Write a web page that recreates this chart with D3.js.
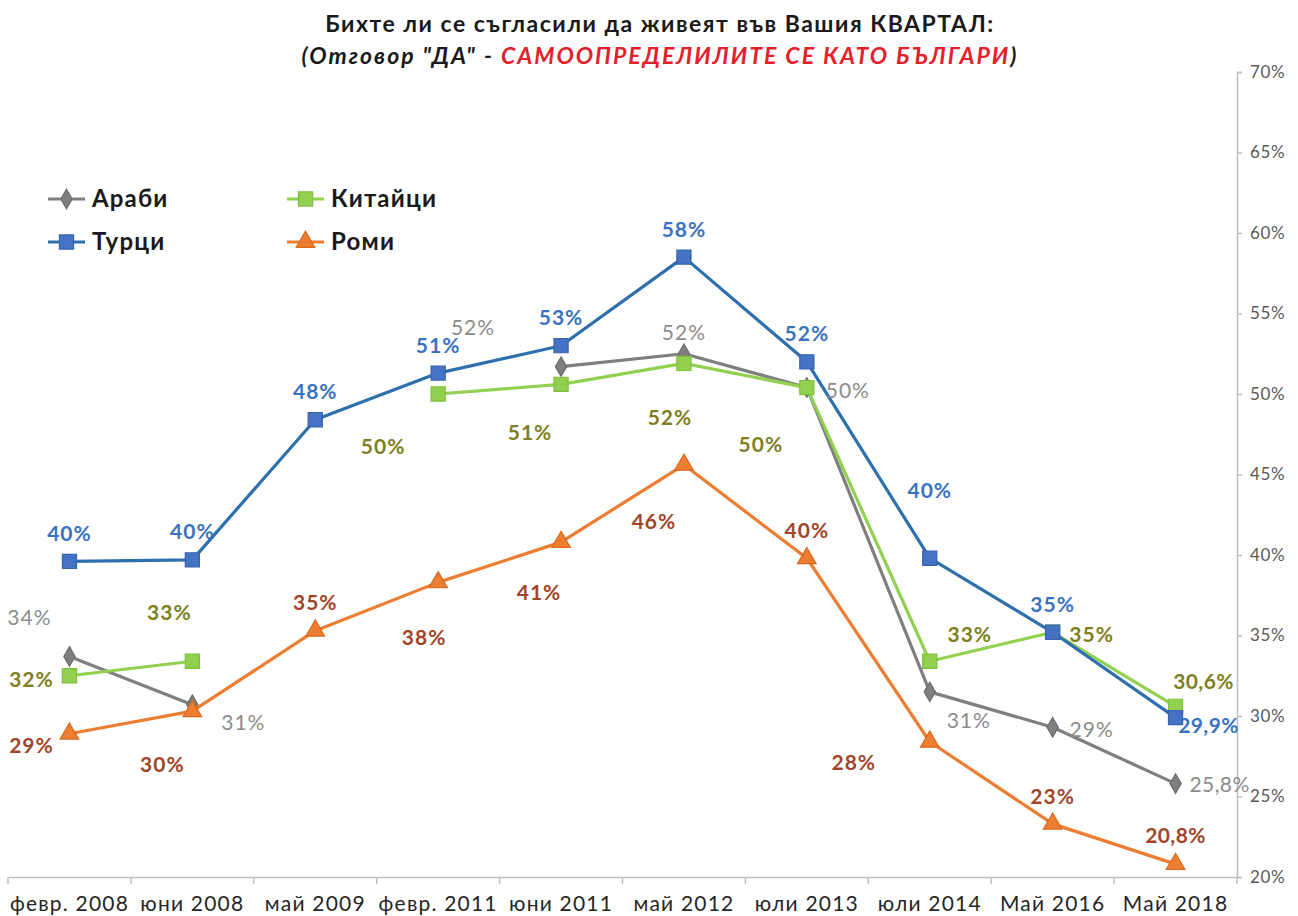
<!DOCTYPE html>
<html>
<head>
<meta charset="utf-8">
<script src="https://cdn.jsdelivr.net/npm/d3@7"></script>
<style>
  body { margin: 0; background: #fff; }
  svg { font-family: Lato, "Open Sans", sans-serif; }
</style>
</head>
<body>
<div id="chart"></div>
<script>
const categories = ["февр. 2008", "юни 2008", "май 2009", "февр. 2011", "юни 2011", "май 2012", "юли 2013", "юли 2014", "Май 2016", "Май 2018"];
const seriesNames = ["Араби", "Китайци", "Турци", "Роми"];

// values in %, null = no survey for that group
const arabi   = [33.7, 30.7, null, null, 51.7, 52.5, 50.4, 31.5, 29.3, 25.8];
const kitaici = [32.5, 33.4, null, 50.0, 50.6, 51.9, 50.4, 33.4, 35.2, 30.6];
const turci   = [39.6, 39.7, 48.4, 51.3, 53.0, 58.5, 52.0, 39.8, 35.2, 29.9];
const romi    = [28.9, 30.3, 35.3, 38.3, 40.8, 45.6, 39.8, 28.4, 23.3, 20.8];

const arabiLabels   = ["34%", "31%", null, null, "52%", "52%", "50%", "31%", "29%", "25,8%"];
const kitaiciLabels = ["32%", "33%", null, "50%", "51%", "52%", "50%", "33%", "35%", "30,6%"];
const turciLabels   = ["40%", "40%", "48%", "51%", "53%", "58%", "52%", "40%", "35%", "29,9%"];
const romiLabels    = ["29%", "30%", "35%", "38%", "41%", "46%", "40%", "28%", "23%", "20,8%"];

const yTicks = [20, 25, 30, 35, 40, 45, 50, 55, 60, 65, 70];

// label placement, offset from the point (dx, dy)
const arabiOffsets   = [[-40,-39],[51,18],null,null,[-88,-39],[0,-21],[41,3],[39,29],[39,2],[44,1]];
const kitaiciOffsets = [[-38,4],[-23,-49],null,[-55,53],[-31,48],[-14,54],[-46,57],[40,-27],[39,2],[28,-25]];
const turciOffsets   = [[0,-28],[0,-28],[0,-28],[0,-27],[0,-28],[0,-28],[0,-28],[0,-68],[0,-28],[33,8]];
const romiOffsets    = [[-38,12],[-30,53],[0,-28],[-14,55],[-22,51],[-30,57],[0,-28],[-76,21],[0,-27],[0,-28]];

const series = [
  {name: seriesNames[0], values: arabi, labels: arabiLabels, offsets: arabiOffsets,
   line: "#7f7f7f", fill: "#7f7f7f", stroke: "#6b6b6b", labelColor: "#8c8c8c", weight: "normal", marker: "diamond"},
  {name: seriesNames[1], values: kitaici, labels: kitaiciLabels, offsets: kitaiciOffsets,
   line: "#92d050", fill: "#92d050", stroke: "#7fc03a", labelColor: "#7f7f22", weight: "bold", marker: "square"},
  {name: seriesNames[2], values: turci, labels: turciLabels, offsets: turciOffsets,
   line: "#2e6fae", fill: "#4472c4", stroke: "#3a63ad", labelColor: "#3a72c0", weight: "bold", marker: "square"},
  {name: seriesNames[3], values: romi, labels: romiLabels, offsets: romiOffsets,
   line: "#ed7d31", fill: "#ed7d31", stroke: "#d9691f", labelColor: "#a0452a", weight: "bold", marker: "triangle"}
];

const width = 1298, height = 916;
const plot = {left: 8, right: 1237, top: 72, bottom: 877};

const svg = d3.select("#chart").append("svg")
    .attr("width", width)
    .attr("height", height);

const x = d3.scaleBand().domain(categories).range([plot.left, plot.right]);
const y = d3.scaleLinear().domain([20, 70]).range([plot.bottom, plot.top]);
const cx = c => x(c) + x.bandwidth() / 2;

// title
svg.append("text")
    .attr("x", 660).attr("y", 32)
    .attr("text-anchor", "middle")
    .attr("font-size", 23).attr("font-weight", "bold").attr("fill", "#1a1a1a")
    .attr("letter-spacing", 1.5)
    .text("Бихте ли се съгласили да живеят във Вашия КВАРТАЛ:");
const sub = svg.append("text")
    .attr("x", 660).attr("y", 64)
    .attr("text-anchor", "middle")
    .attr("font-size", 23).attr("font-weight", "bold").attr("font-style", "italic").attr("fill", "#1a1a1a")
    .attr("letter-spacing", 2);
sub.append("tspan").text("(Отговор \"ДА\" - ");
sub.append("tspan").attr("fill", "#e3202b").text("САМООПРЕДЕЛИЛИТЕ СЕ КАТО БЪЛГАРИ");
sub.append("tspan").text(")");

// x axis
const xAxis = svg.append("g")
    .attr("transform", `translate(0,${plot.bottom})`)
    .call(d3.axisBottom(x).tickSize(0).tickPadding(19));
xAxis.select(".domain").attr("stroke", "#bfbfbf").attr("stroke-width", 1.5);
xAxis.selectAll("text").attr("font-size", 21).attr("fill", "#262626")
    .attr("font-family", "Lato, sans-serif").attr("letter-spacing", 1.2);
xAxis.selectAll(".sep")
    .data(d3.range(categories.length + 1))
    .enter().append("line")
    .attr("class", "sep")
    .attr("x1", i => plot.left + i * x.step())
    .attr("x2", i => plot.left + i * x.step())
    .attr("y1", 0).attr("y2", 7)
    .attr("stroke", "#bfbfbf").attr("stroke-width", 1.5);

// y axis on the right
const yAxis = svg.append("g")
    .attr("transform", `translate(${plot.right},0)`)
    .call(d3.axisRight(y).tickValues(yTicks).tickSize(5).tickPadding(8).tickFormat(d => d + "%"));
yAxis.select(".domain").attr("stroke", "#bfbfbf").attr("stroke-width", 1.5);
yAxis.selectAll(".tick line").attr("stroke", "#bfbfbf").attr("stroke-width", 1.5);
yAxis.selectAll("text").attr("font-size", 17).attr("fill", "#595959")
    .attr("font-family", "Lato, sans-serif").attr("letter-spacing", 0.6);

const symbols = {
  diamond: d3.symbol().type(d3.symbolDiamond).size(110),
  square: d3.symbol().type(d3.symbolSquare).size(200),
  triangle: d3.symbol().type(d3.symbolTriangle).size(150)
};

const line = d3.line()
    .defined(d => d.v !== null)
    .x(d => cx(d.c))
    .y(d => y(d.v));

series.forEach(s => {
  const pts = categories.map((c, i) => ({c, v: s.values[i], label: s.labels[i], off: s.offsets[i]}));
  const g = svg.append("g");
  g.append("path")
      .datum(pts)
      .attr("d", line)
      .attr("fill", "none")
      .attr("stroke", s.line)
      .attr("stroke-width", 3.2)
      .attr("stroke-linejoin", "round");
  g.selectAll(".m")
      .data(pts.filter(d => d.v !== null))
      .enter().append("path")
      .attr("class", "m")
      .attr("d", symbols[s.marker])
      .attr("transform", d => `translate(${cx(d.c)},${y(d.v)})`)
      .attr("fill", s.fill)
      .attr("stroke", s.stroke)
      .attr("stroke-width", 1.2);
});

// data labels above everything
series.forEach(s => {
  const pts = categories.map((c, i) => ({c, v: s.values[i], label: s.labels[i], off: s.offsets[i]}))
      .filter(d => d.v !== null);
  svg.append("g").selectAll("text")
      .data(pts)
      .enter().append("text")
      .attr("x", d => cx(d.c) + d.off[0])
      .attr("y", d => y(d.v) + d.off[1])
      .attr("dy", "0.35em")
      .attr("text-anchor", "middle")
      .attr("font-size", 21)
      .attr("letter-spacing", d => d.label.length > 3 ? 0.4 : 1)
      .attr("font-weight", s.weight)
      .attr("fill", s.labelColor)
      .text(d => d.label);
});

// legend
const legendPos = [[48, 199], [287, 199], [48, 242], [287, 242]];
series.forEach((s, i) => {
  const [lx, ly] = legendPos[i];
  const lg = svg.append("g").attr("transform", `translate(${lx},${ly})`);
  lg.append("line").attr("x1", 0).attr("x2", 37).attr("y1", 0).attr("y2", 0)
      .attr("stroke", s.line).attr("stroke-width", 3.2);
  lg.append("path").attr("d", symbols[s.marker]).attr("transform", "translate(18.5,0)")
      .attr("fill", s.fill).attr("stroke", s.stroke).attr("stroke-width", 1.2);
  lg.append("text").attr("x", 44).attr("dy", "0.35em")
      .attr("font-size", 24).attr("font-weight", "bold").attr("fill", "#1a1a1a")
      .attr("letter-spacing", 1.2)
      .text(s.name);
});
</script>
</body>
</html>
